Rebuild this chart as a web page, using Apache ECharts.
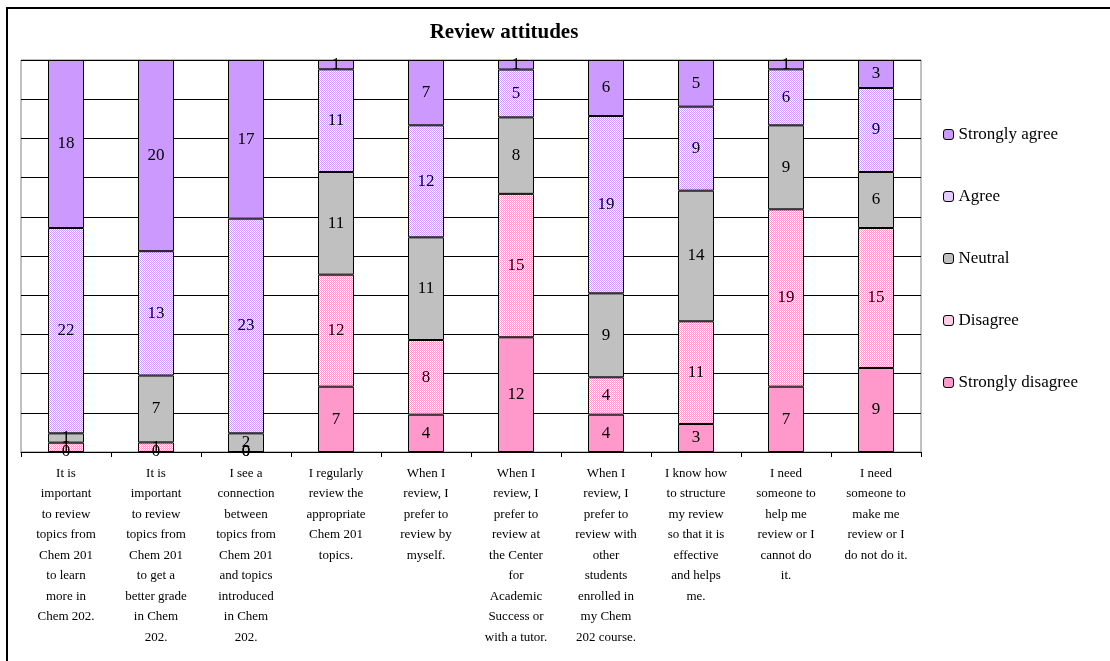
<!DOCTYPE html>
<html>
<head>
<meta charset="utf-8">
<script src="https://cdn.jsdelivr.net/npm/echarts@6/dist/echarts.min.js"></script>
<style>
  html, body { margin: 0; padding: 0; background: #fff; }
  #chart { width: 1110px; height: 661px; }
</style>
</head>
<body>
<div id="chart"></div>
<script>
// Survey statements (x-axis categories)
const categories = [
  "It is\nimportant\nto review\ntopics from\nChem 201\nto learn\nmore in\nChem 202.",
  "It is\nimportant\nto review\ntopics from\nChem 201\nto get a\nbetter grade\nin Chem\n202.",
  "I see a\nconnection\nbetween\ntopics from\nChem 201\nand topics\nintroduced\nin Chem\n202.",
  "I regularly\nreview the\nappropriate\nChem 201\ntopics.",
  "When I\nreview, I\nprefer to\nreview by\nmyself.",
  "When I\nreview, I\nprefer to\nreview at\nthe Center\nfor\nAcademic\nSuccess or\nwith a tutor.",
  "When I\nreview, I\nprefer to\nreview with\nother\nstudents\nenrolled in\nmy Chem\n202 course.",
  "I know how\nto structure\nmy review\nso that it is\neffective\nand helps\nme.",
  "I need\nsomeone to\nhelp me\nreview or I\ncannot do\nit.",
  "I need\nsomeone to\nmake me\nreview or I\ndo not do it."
];

// Response counts per statement
const stronglyDisagree = [0, 0, 0, 7, 4, 12, 4, 3, 7, 9];
const disagree         = [1, 1, 0, 12, 8, 15, 4, 11, 19, 15];
const neutral          = [1, 7, 2, 11, 11, 8, 9, 14, 9, 6];
const agree            = [22, 13, 23, 11, 12, 5, 19, 9, 6, 9];
const stronglyAgree    = [18, 20, 17, 1, 7, 1, 6, 5, 1, 3];

const seriesNames = ["Strongly disagree", "Disagree", "Neutral", "Agree", "Strongly agree"];
const seriesCounts = [stronglyDisagree, disagree, neutral, agree, stronglyAgree];

// Dotted fill: foreground colour alternating with white pixels
function dotPattern(fg) {
  const c = document.createElement('canvas');
  c.width = 2; c.height = 2;
  const ctx = c.getContext('2d');
  ctx.fillStyle = '#ffffff';
  ctx.fillRect(0, 0, 2, 2);
  ctx.fillStyle = fg;
  ctx.fillRect(0, 0, 1, 1);
  ctx.fillRect(1, 1, 1, 1);
  return { image: c, repeat: 'repeat' };
}

const fills = [
  '#FF99CC',
  dotPattern('#FF99CC'),
  '#C0C0C0',
  dotPattern('#CC99FF'),
  '#CC99FF'
];

// Totals per statement, used to show each stack as a share of 100%
const totals = categories.map((_, i) =>
  seriesCounts.reduce((s, arr) => s + arr[i], 0));

const serif = '"Liberation Serif", "Times New Roman", serif';

const series = seriesNames.map((name, k) => ({
  name: name,
  type: 'bar',
  stack: 'all',
  barWidth: 36,
  data: seriesCounts[k].map((v, i) => v / totals[i] * 100),
  itemStyle: { color: fills[k], borderColor: '#000', borderWidth: 1 },
  label: {
    show: true,
    position: 'inside',
    color: '#000',
    fontFamily: serif,
    fontSize: 17,
    formatter: p => String(seriesCounts[k][p.dataIndex])
  },
  emphasis: { disabled: true }
}));

const chart = echarts.init(document.getElementById('chart'), null, { renderer: 'canvas' });
chart.setOption({
  animation: false,
  backgroundColor: '#fff',
  graphic: [{
    type: 'rect',
    silent: true,
    z: -1,
    shape: { x: 7, y: 8, width: 1130, height: 700 },
    style: { fill: 'none', stroke: '#000', lineWidth: 2 }
  }, {
    type: 'text',
    silent: true,
    x: 504,
    y: 33,
    style: {
      text: 'Review attitudes',
      align: 'center',
      verticalAlign: 'middle',
      fontFamily: serif,
      fontSize: 21,
      fontWeight: 'bold',
      fill: '#000'
    }
  }],
  legend: {
    orient: 'vertical',
    left: 938,
    top: 121,
    itemWidth: 10,
    itemHeight: 10,
    itemGap: 45,
    data: ["Strongly agree", "Agree", "Neutral", "Disagree", "Strongly disagree"],
    itemStyle: { borderColor: '#000', borderWidth: 1 },
    textStyle: { fontFamily: serif, fontSize: 17, color: '#000' }
  },
  grid: {
    left: 21, top: 60, width: 900, height: 392,
    show: true, borderColor: '#808080', borderWidth: 1,
    containLabel: false
  },
  xAxis: {
    type: 'category',
    data: categories,
    axisLine: { show: true, lineStyle: { color: '#000', width: 1 } },
    axisTick: { show: true, alignWithLabel: false, length: 5, lineStyle: { color: '#000' } },
    axisLabel: {
      interval: 0,
      margin: 11,
      color: '#000',
      fontFamily: serif,
      fontSize: 13,
      lineHeight: 20.5,
      align: 'center'
    }
  },
  yAxis: {
    type: 'value',
    min: 0, max: 100, interval: 10,
    axisLabel: { show: false },
    axisTick: { show: false },
    axisLine: { show: false },
    splitLine: { show: true, lineStyle: { color: '#000', width: 1 } }
  },
  series: series
});
</script>
</body>
</html>
